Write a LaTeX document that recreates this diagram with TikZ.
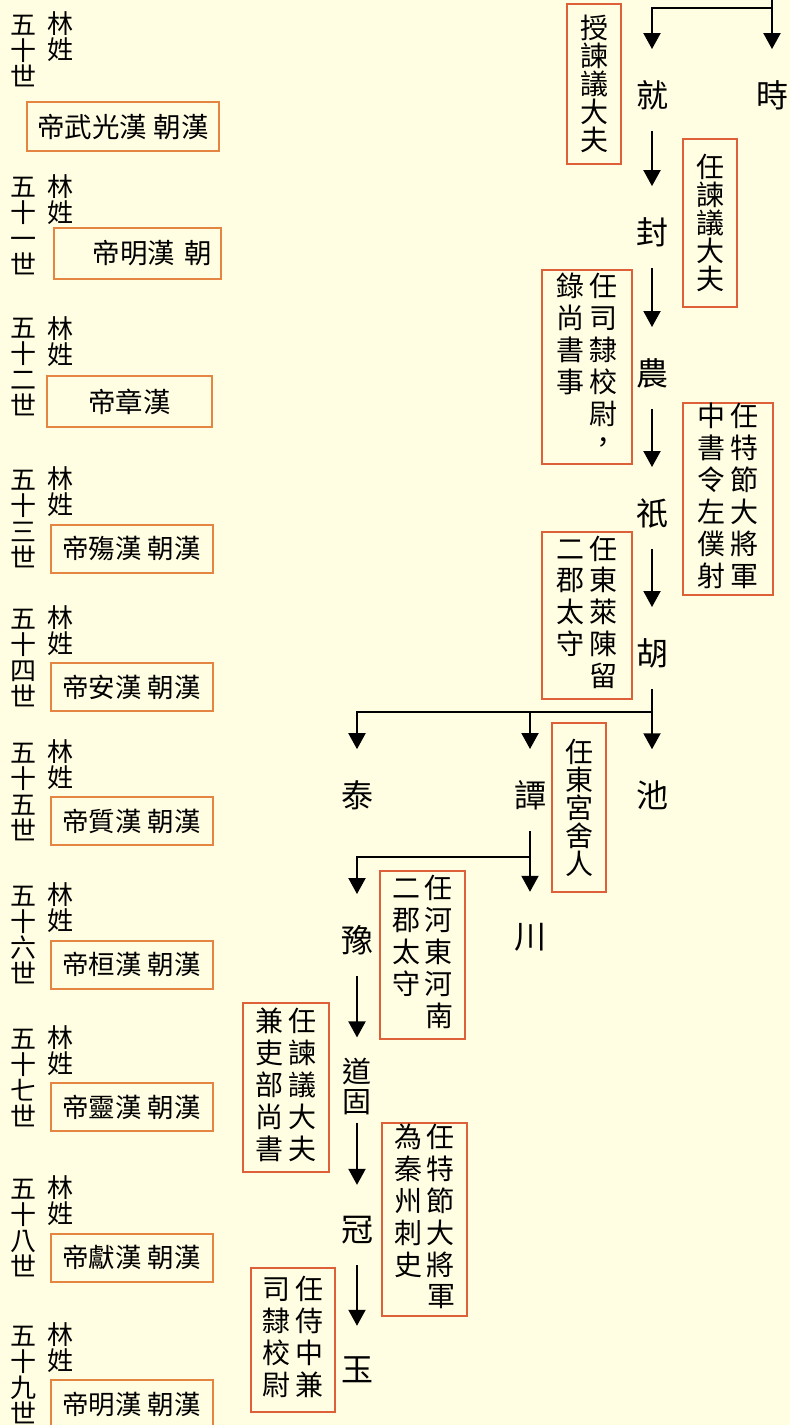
\documentclass[tikz,border=0pt]{standalone}
\usepackage{fontspec}
\setmainfont{Noto Sans CJK TC}
\usetikzlibrary{arrows.meta}
\definecolor{paper}{RGB}{255,254,226}
\definecolor{postline}{RGB}{222,96,56}
\definecolor{eraline}{RGB}{228,134,66}
\tikzset{
  person/.style={inner sep=0pt, minimum height=26pt, align=center, font=\fontsize{32}{28}\selectfont},
  post/.style={draw=postline, line width=2pt, inner sep=0pt, align=center, font=\fontsize{28}{28}\selectfont},
  era/.style={draw=eraline, line width=2pt, inner sep=0pt, minimum width=162pt, minimum height=48pt, font=\fontsize{26.5}{26}\selectfont},
  genno/.style={inner sep=0pt, align=center, font=\fontsize{26}{26}\selectfont},
  arr/.style={-{Triangle[width=17pt,length=16pt]}, line width=2pt, shorten >=31pt},
  descent/.style={arr, shorten <=21pt},
}
\begin{document}
\begin{tikzpicture}[x=1pt, y=-1pt]
\fill[paper] (0,0) rectangle (790,1425);
\useasboundingbox (0,0) rectangle (790,1425);

% generations and dynasty boxes on the left
\node[genno] (gen50) at (23,51) {五\\十\\世};
\node[genno] (lin50) at (60,36.5) {林\\姓};
\node[era, minimum width=192pt, minimum height=49pt, font=\fontsize{27.5}{26}\selectfont] (era50) at (123,126.5) {帝武光漢 朝漢};
\node[genno] (gen51) at (23,226) {五\\十\\一\\世};
\node[genno] (lin51) at (60,199.5) {林\\姓};
\node[era, minimum height=51pt, text width=149pt, inner xsep=9pt, align=right, font=\fontsize{27.5}{26}\selectfont] (era51) at (137.5,253.5) {帝明漢 朝};
\node[genno] (gen52) at (23,367) {五\\十\\二\\世};
\node[genno] (lin52) at (60,341.5) {林\\姓};
\node[era, minimum width=165pt, minimum height=51pt, font=\fontsize{27.5}{26}\selectfont] (era52) at (129.5,401.5) {帝章漢};
\foreach \g/\num/\txt/\y in {53/三/帝殤漢 朝漢/548.5, 54/四/帝安漢 朝漢/687, 55/五/帝質漢 朝漢/821,
    56/六/帝桓漢 朝漢/964.5, 57/七/帝靈漢 朝漢/1107, 58/八/帝獻漢 朝漢/1257.5, 59/九/帝明漢 朝漢/1404} {
  \node[genno] (gen\g) at (23,{\y-29}) {五\\十\\\num\\世};
  \node[genno] (lin\g) at (60,{\y-56.5}) {林\\姓};
  \node[era] (era\g) at (131.5,\y) {\txt};
}

% family line on the right
\node[person] (jiu) at (652,95) {就};
\node[person] (shi) at (772,95) {時};
\node[person] (feng) at (652,232) {封};
\node[person] (nong) at (652,373) {農};
\node[person] (qi) at (652,513) {祇};
\node[person] (hu) at (652,653) {胡};
\node[person] (tai) at (357,795) {泰};
\node[person] (tan) at (530,795) {譚};
\node[person] (chi) at (652,795) {池};
\node[person] (yu) at (357,940) {豫};
\node[person] (chuan) at (530,937) {川};
\node[person, font=\fontsize{29}{30}\selectfont] (daogu) at (357,1086) {道\\固};
\node[person] (guan) at (357,1230) {冠};
\node[person] (jade) at (357,1370) {玉};

% offices
\node[post, minimum width=54pt, minimum height=160pt] (jiuPost) at (594,84) {授\\諫\\議\\大\\夫};
\node[post, minimum width=54pt, minimum height=168pt] (fengPost) at (710,223) {任\\諫\\議\\大\\夫};
\node[post, minimum width=90pt, minimum height=194pt] (nongPost) at (587,367)
  {\begin{tabular}{@{}c@{\hspace{5pt}}c@{}}錄&任\\尚&司\\書&隸\\事&校\\&尉\\&，\end{tabular}};
\node[post, minimum width=90pt, minimum height=192pt] (qiPost) at (728,499)
  {\begin{tabular}{@{}c@{\hspace{5pt}}c@{}}中&任\\書&特\\令&節\\左&大\\僕&將\\射&軍\end{tabular}};
\node[post, minimum width=90pt, minimum height=167pt] (huPost) at (587,615.5)
  {\begin{tabular}{@{}c@{\hspace{5pt}}c@{}}二&任\\郡&東\\太&萊\\守&陳\\&留\end{tabular}};
\node[post, minimum width=54pt, minimum height=169pt] (tanPost) at (579,807.5) {任\\東\\宮\\舍\\人};
\node[post, minimum width=85pt, minimum height=168pt] (yuPost) at (422.5,955)
  {\begin{tabular}{@{}c@{\hspace{5pt}}c@{}}二&任\\郡&河\\太&東\\守&河\\&南\end{tabular}};
\node[post, minimum width=86pt, minimum height=169pt] (daoguPost) at (286,1087.5)
  {\begin{tabular}{@{}c@{\hspace{5pt}}c@{}}兼&任\\吏&諫\\部&議\\尚&大\\書&夫\end{tabular}};
\node[post, minimum width=85pt, minimum height=193pt] (guanPost) at (424.5,1219.5)
  {\begin{tabular}{@{}c@{\hspace{5pt}}c@{}}為&任\\秦&特\\州&節\\刺&大\\史&將\\&軍\end{tabular}};
\node[post, minimum width=84pt, minimum height=144pt] (jadePost) at (293,1340)
  {\begin{tabular}{@{}c@{\hspace{5pt}}c@{}}司&任\\隸&侍\\校&中\\尉&兼\end{tabular}};

% descent arrows
\coordinate (root) at (772,-2);
\coordinate (rootTurn) at (772,8);
\coordinate (huSplit) at (652,712);
\coordinate (tanSplit) at (530,857);
\draw[arr] (root) -- (shi);
\draw[arr] (rootTurn) -| (jiu);
\draw[descent] (jiu) -- (feng);
\draw[descent] (feng) -- (nong);
\draw[descent] (nong) -- (qi);
\draw[descent] (qi) -- (hu);
\draw[descent] (hu) -- (chi);
\draw[arr] (huSplit) -| (tai);
\draw[arr] (huSplit) -| (tan);
\draw[descent] (tan) -- (chuan);
\draw[arr] (tanSplit) -| (yu);
\draw[descent, shorten >=20pt] (yu) -- (daogu);
\draw[descent, shorten <=8pt] (daogu) -- (guan);
\draw[descent] (guan) -- (jade);
\end{tikzpicture}
\end{document}
